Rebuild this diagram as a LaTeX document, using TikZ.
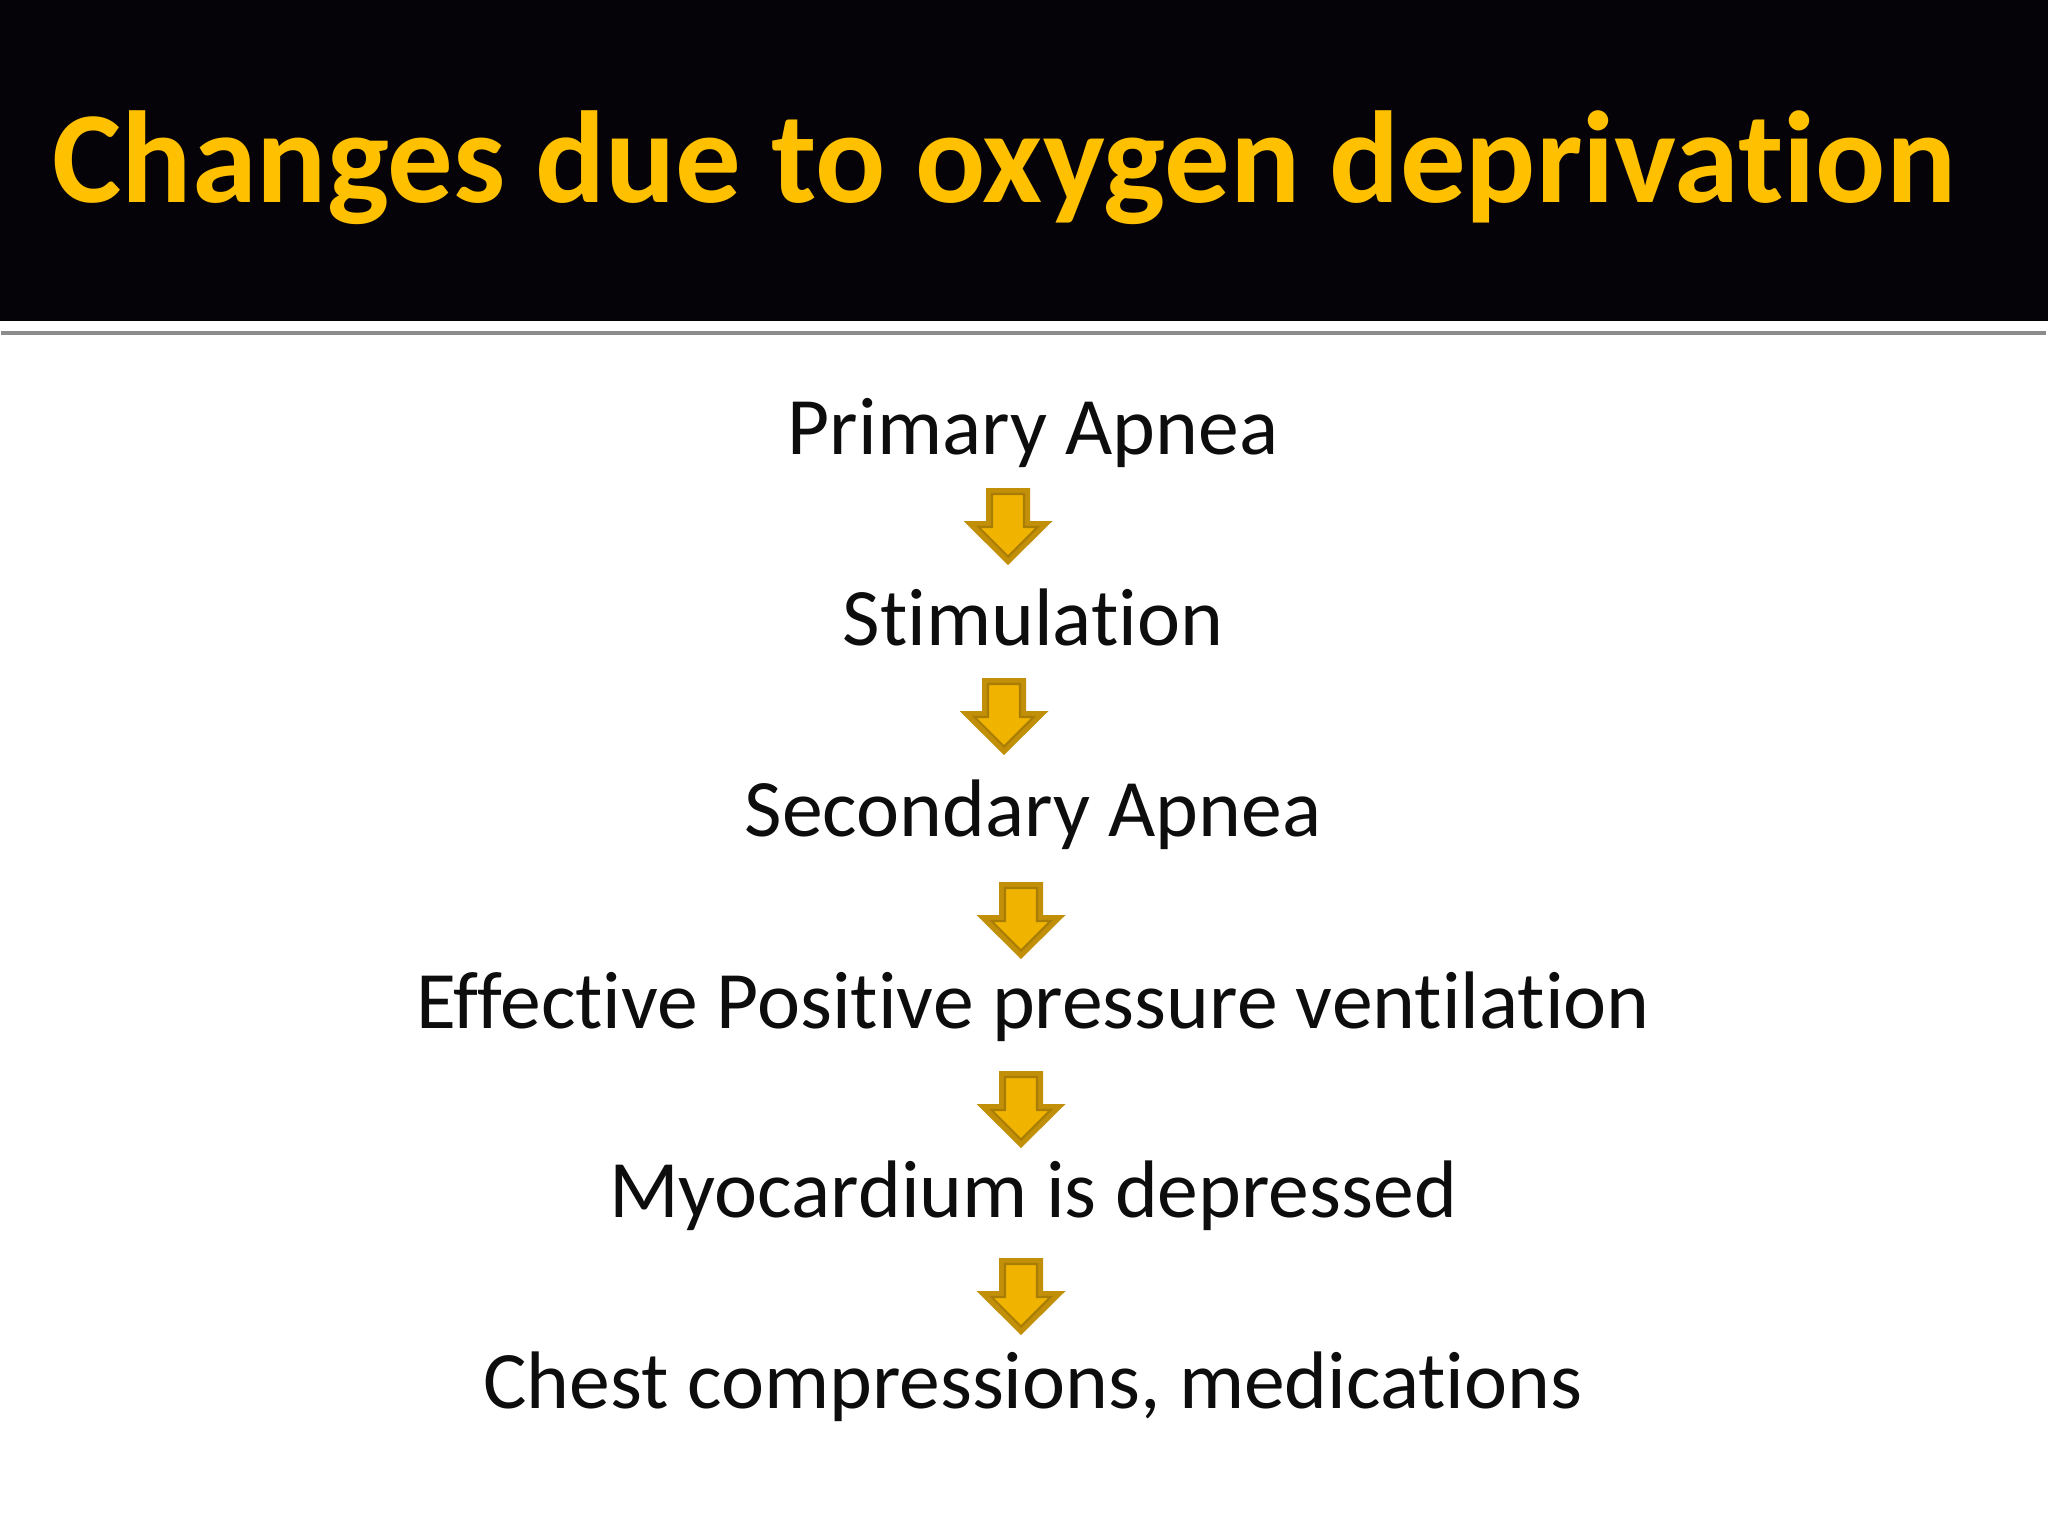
\documentclass[tikz,border=0pt]{standalone}
\usepackage{fontspec}
\setmainfont{Carlito}[Ligatures=NoCommon]
\definecolor{titlegold}{HTML}{FFC000}
\definecolor{hdrblack}{HTML}{050308}
\definecolor{bodytext}{HTML}{0D0D0D}
\definecolor{arrowdark}{HTML}{C28F08}
\definecolor{arrowlight}{HTML}{F0B400}
\definecolor{arrowline}{HTML}{A87C05}
\tikzset{
  titletext/.style={anchor=base west, inner sep=0pt, text=titlegold, font=\fontsize{37.2}{44}\selectfont\bfseries},
  bodynode/.style={anchor=base, inner sep=0pt, text=bodytext, font=\fontsize{23.2}{28}\selectfont},
  blockarrow/.pic={
    \fill[arrowdark] (-22,0) -- (22,0) -- (22,33) -- (44.5,33) -- (0,77) -- (-44.5,33) -- (-22,33) -- cycle;
    \filldraw[fill=arrowlight, draw=arrowline, line width=0.6pt] (-16,6) -- (16,6) -- (16,39) -- (29.5,39) -- (0,68.5) -- (-29.5,39) -- (-16,39) -- cycle;
  }
}
\begin{document}
\begin{tikzpicture}[x=0.01cm,y=-0.01cm]
\useasboundingbox (0,0) rectangle (2048,1536);
\fill[white] (0,0) rectangle (2048,1536);
\fill[hdrblack] (0,0) rectangle (2048,321);
\draw[line width=1.2pt, black!45] (1,333) -- (2046,333);
\node[titletext] (title) at (52,202) {Changes due to oxygen deprivation};

\node[bodynode] (s1) at (1033,454) {Primary Apnea};
\node[bodynode] (s2) at (1033,645) {Stimulation};
\node[bodynode] (s3) at (1033,836) {Secondary Apnea};
\node[bodynode] (s4) at (1033,1028) {Effective Positive pressure ventilation};
\node[bodynode] (s5) at (1033,1217) {Myocardium is depressed};
\node[bodynode] (s6) at (1033,1408) {Chest compressions, medications};

\coordinate (a1) at (1008,488);
\coordinate (a2) at (1004,678);
\coordinate (a3) at (1021,882);
\coordinate (a4) at (1021,1071);
\coordinate (a5) at (1021,1258);
\pic at (a1) {blockarrow};
\pic at (a2) {blockarrow};
\pic at (a3) {blockarrow};
\pic at (a4) {blockarrow};
\pic at (a5) {blockarrow};
\end{tikzpicture}
\end{document}
